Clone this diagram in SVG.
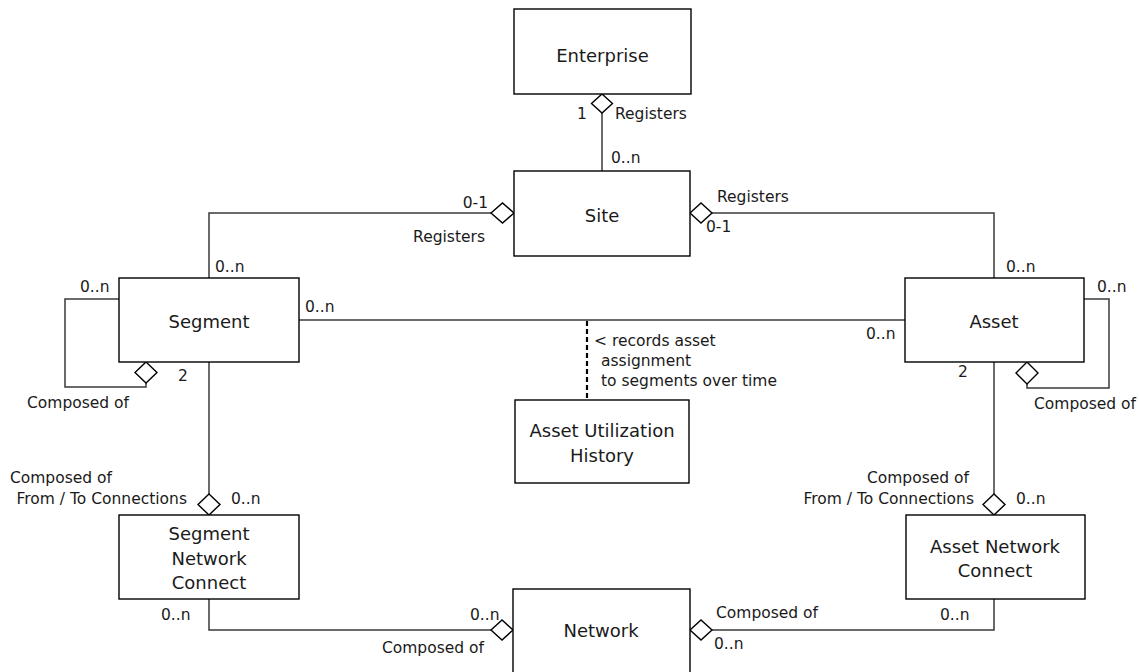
<svg xmlns="http://www.w3.org/2000/svg" width="1139" height="672" viewBox="0 0 1139 672">
<style>
  .box { fill: #ffffff; stroke: #000000; stroke-width: 1.4; }
  .node { font-family: "DejaVu Sans", Verdana, sans-serif; font-size: 18px; fill: #1a1a1a; text-anchor: middle; }
  .lbl { font-family: "DejaVu Sans", Verdana, sans-serif; font-size: 15.5px; fill: #1a1a1a; }
  .end { text-anchor: end; }
  .conn { fill: none; stroke: #3a3a3a; stroke-width: 1.5; }
  .dia { fill: #ffffff; stroke: #000000; stroke-width: 1.4; }
  .dash { fill: none; stroke: #000000; stroke-width: 2.2; stroke-dasharray: 5 3; }
</style>
<rect width="1139" height="672" fill="#ffffff"/>
<g id="connectors">
  <path class="conn" d="M602,113 V171"/>
  <path class="conn" d="M491,213 H209 V278"/>
  <path class="conn" d="M712,213 H994 V278"/>
  <path class="conn" d="M299,320 H905"/>
  <path class="dash" d="M587,321 V400"/>
  <path class="conn" d="M119,299 H65 V387 H146 V383"/>
  <path class="conn" d="M1084,299 H1109 V388 H1027 V384"/>
  <path class="conn" d="M209,362 V494"/>
  <path class="conn" d="M994,362 V494"/>
  <path class="conn" d="M209,599 V630 H491"/>
  <path class="conn" d="M994,599 V630 H712"/>
  <polygon class="dia" points="602,94 612.5,103.5 602,113 591.5,103.5"/>
  <polygon class="dia" points="514,213 502.5,223 491,213 502.5,203"/>
  <polygon class="dia" points="690,213 701,203 712,213 701,223"/>
  <polygon class="dia" points="146,362 157,372.5 146,383 135,372.5"/>
  <polygon class="dia" points="1027,362 1038,373 1027,384 1016,373"/>
  <polygon class="dia" points="209,494 220,504.5 209,515 198,504.5"/>
  <polygon class="dia" points="994,494 1005,504.5 994,515 983,504.5"/>
  <polygon class="dia" points="491,630 502,620 513,630 502,640"/>
  <polygon class="dia" points="690,630 701,620 712,630 701,640"/>
  <text class="lbl" x="577" y="119">1</text>
  <text class="lbl" x="615" y="119">Registers</text>
  <text class="lbl" x="611" y="163">0..n</text>
  <text class="lbl end" x="488" y="208">0-1</text>
  <text class="lbl end" x="485" y="242">Registers</text>
  <text class="lbl" x="717" y="202">Registers</text>
  <text class="lbl" x="706" y="232">0-1</text>
  <text class="lbl" x="215" y="272">0..n</text>
  <text class="lbl" x="80" y="292">0..n</text>
  <text class="lbl" x="178" y="381">2</text>
  <text class="lbl" x="27" y="408">Composed of</text>
  <text class="lbl" x="305" y="312">0..n</text>
  <text class="lbl" x="1006" y="272">0..n</text>
  <text class="lbl" x="866" y="339">0..n</text>
  <text class="lbl" x="1097" y="292">0..n</text>
  <text class="lbl" x="958" y="377">2</text>
  <text class="lbl" x="1034" y="409">Composed of</text>
  <text class="lbl"><tspan x="594" y="346">&lt; records asset</tspan><tspan x="601" y="366">assignment</tspan><tspan x="601" y="386">to segments over time</tspan></text>
  <text class="lbl end" x="112" y="483">Composed of</text>
  <text class="lbl end" x="187" y="504">From / To Connections</text>
  <text class="lbl" x="231" y="504">0..n</text>
  <text class="lbl end" x="969" y="483">Composed of</text>
  <text class="lbl end" x="974" y="504">From / To Connections</text>
  <text class="lbl" x="1016" y="504">0..n</text>
  <text class="lbl" x="161" y="620">0..n</text>
  <text class="lbl" x="470" y="620">0..n</text>
  <text class="lbl end" x="484" y="653">Composed of</text>
  <text class="lbl" x="716" y="618">Composed of</text>
  <text class="lbl" x="714" y="649">0..n</text>
  <text class="lbl" x="940" y="620">0..n</text>
</g>
<g id="enterprise">
  <rect class="box" x="514" y="9" width="177" height="85"/>
  <text class="node" x="602.5" y="62">Enterprise</text>
</g>
<g id="site">
  <rect class="box" x="514" y="171" width="176" height="85"/>
  <text class="node" x="602" y="222">Site</text>
</g>
<g id="segment">
  <rect class="box" x="119" y="278" width="180" height="84"/>
  <text class="node" x="209" y="328">Segment</text>
</g>
<g id="asset">
  <rect class="box" x="905" y="278" width="179" height="84"/>
  <text class="node" x="994" y="328">Asset</text>
</g>
<g id="asset-utilization-history">
  <rect class="box" x="515" y="400" width="174" height="83"/>
  <text class="node"><tspan x="602" y="437">Asset Utilization</tspan><tspan x="602" y="462">History</tspan></text>
</g>
<g id="segment-network-connect">
  <rect class="box" x="119" y="515" width="180" height="84"/>
  <text class="node"><tspan x="209" y="540">Segment</tspan><tspan x="209" y="565">Network</tspan><tspan x="209" y="589">Connect</tspan></text>
</g>
<g id="asset-network-connect">
  <rect class="box" x="906" y="515" width="179" height="84"/>
  <text class="node"><tspan x="995" y="553">Asset Network</tspan><tspan x="995" y="577">Connect</tspan></text>
</g>
<g id="network">
  <rect class="box" x="513" y="589" width="177" height="95"/>
  <text class="node" x="601" y="637">Network</text>
</g>
</svg>
